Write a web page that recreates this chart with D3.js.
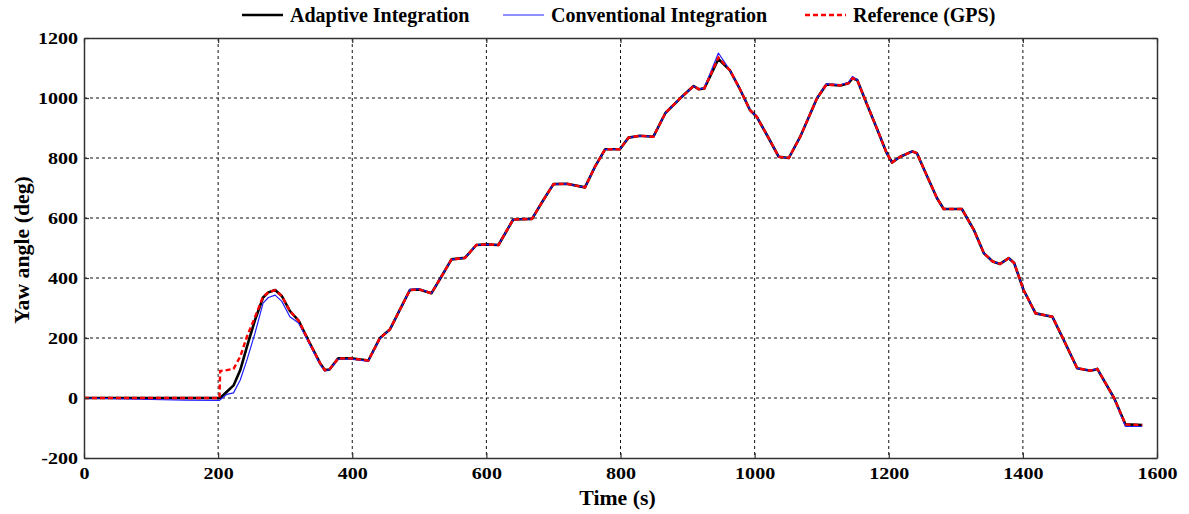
<!DOCTYPE html>
<html>
<head>
<meta charset="utf-8">
<script src="https://cdn.jsdelivr.net/npm/d3@7"></script>
<style>
  body { margin: 0; background: #fff; }
  svg { display: block; font-family: "Liberation Serif", "Times New Roman", serif; font-weight: bold; }
</style>
</head>
<body>
<svg width="1189" height="514"></svg>
<script>
const svgWidth = 1189;
const svgHeight = 514;
const margin = {top: 38, right: 32, bottom: 56, left: 84};
const width = svgWidth - margin.left - margin.right;
const height = svgHeight - margin.top - margin.bottom;

// time axis (s), shared by all three series
const timeS = [
  0, 100, 150, 202, 203, 213, 223, 233, 243, 255,
  267, 275, 285, 295, 307, 320, 335, 352, 359, 366,
  379, 398, 424, 441, 456, 476, 486, 500, 518, 533,
  548, 568, 585, 600, 618, 640, 668, 685, 700, 720,
  747, 762, 777, 799, 812, 829, 849, 867, 889, 909,
  917, 925, 946, 963, 978, 993, 1003, 1020, 1036, 1051,
  1068, 1093, 1107, 1128, 1140, 1146, 1153, 1167, 1182, 1197,
  1205, 1217, 1235, 1242, 1257, 1272, 1282, 1309, 1327, 1342,
  1355, 1366, 1379, 1387, 1401, 1419, 1444, 1461, 1481, 1501,
  1511, 1536, 1553, 1578
];

const reference = [
  0, 0, 0, 0, 90, 93, 97, 138, 205, 270,
  338, 352, 360, 340, 290, 258, 190, 116, 93, 95,
  132, 132, 125, 199, 228, 316, 360, 362, 349, 405,
  462, 467, 510, 512, 510, 595, 597, 660, 713, 714,
  702, 771, 829, 829, 868, 874, 871, 950, 999, 1040,
  1029, 1032, 1135, 1093, 1030, 960, 938, 870, 804, 800,
  871, 999, 1045, 1042, 1049, 1066, 1060, 982, 900, 816,
  785, 804, 822, 816, 740, 666, 630, 630, 560, 482,
  455, 447, 466, 450, 360, 282, 271, 193, 99, 91,
  97, 0, -88, -90
];

const adaptive = [
  0, 0, 0, 0, 0, 21, 42, 93, 171, 260,
  335, 352, 360, 340, 290, 258, 190, 116, 93, 95,
  132, 132, 125, 199, 228, 316, 360, 362, 349, 405,
  462, 467, 510, 512, 510, 595, 597, 660, 713, 714,
  702, 771, 829, 829, 868, 874, 871, 950, 999, 1040,
  1029, 1032, 1130, 1093, 1030, 960, 938, 870, 804, 800,
  871, 999, 1045, 1042, 1049, 1066, 1060, 982, 900, 816,
  785, 804, 822, 816, 740, 666, 630, 630, 560, 482,
  455, 447, 466, 450, 360, 282, 271, 193, 99, 91,
  97, 0, -88, -90
];

const conventional = [
  0, -5, -7, -8, -6, 12, 17, 60, 127, 216,
  316, 335, 343, 322, 271, 250, 185, 112, 90, 95,
  130, 130, 123, 198, 228, 316, 362, 364, 349, 405,
  462, 467, 510, 512, 510, 595, 597, 660, 713, 714,
  702, 771, 829, 829, 868, 874, 871, 950, 999, 1040,
  1029, 1034, 1150, 1093, 1030, 960, 938, 870, 804, 800,
  871, 999, 1047, 1044, 1052, 1072, 1060, 982, 900, 816,
  785, 804, 822, 816, 740, 666, 630, 630, 560, 482,
  455, 447, 466, 450, 360, 282, 271, 193, 99, 91,
  97, 0, -95, -95
];

const xTicks = [0, 200, 400, 600, 800, 1000, 1200, 1400, 1600];
const yTicks = [-200, 0, 200, 400, 600, 800, 1000, 1200];

const seriesNames = ["Adaptive Integration", "Conventional Integration", "Reference (GPS)"];

const svg = d3.select("svg");
const g = svg.append("g").attr("transform", `translate(${margin.left},${margin.top})`);

const x = d3.scaleLinear().domain([0, 1600]).range([0, width]);
const y = d3.scaleLinear().domain([-200, 1200]).range([height, 0]);

// dashed grid
g.append("g")
    .selectAll("line")
    .data(xTicks.slice(1, -1))
    .join("line")
    .attr("x1", (d) => x(d)).attr("x2", (d) => x(d))
    .attr("y1", 0).attr("y2", height)
    .attr("stroke", "#111").attr("stroke-dasharray", "3,3");

g.append("g")
    .selectAll("line")
    .data(yTicks.slice(1, -1))
    .join("line")
    .attr("y1", (d) => y(d)).attr("y2", (d) => y(d))
    .attr("x1", 0).attr("x2", width)
    .attr("stroke", "#111").attr("stroke-dasharray", "3,3");

// lines
const pts = (vals) => timeS.map((t, i) => ({t, v: vals[i]}));
const line = d3.line()
    .x((d) => x(d.t))
    .y((d) => y(d.v));

g.append("path").datum(pts(adaptive))
    .attr("fill", "none").attr("stroke", "#000").attr("stroke-width", 2.6)
    .attr("stroke-linejoin", "round").attr("d", line);

g.append("path").datum(pts(conventional))
    .attr("fill", "none").attr("stroke", "#1f1fff").attr("stroke-width", 1.2)
    .attr("stroke-linejoin", "round").attr("d", line);

g.append("path").datum(pts(reference))
    .attr("fill", "none").attr("stroke", "#ff0000").attr("stroke-width", 2.4)
    .attr("stroke-dasharray", "5,3").attr("d", line);

// axes with inward ticks on all four sides
const axisColor = "#333";
const fmt = (d) => String(d);
const styleAxis = (sel) => {
    sel.select(".domain").attr("stroke", axisColor).attr("stroke-width", 1.5);
    sel.selectAll(".tick line").attr("stroke", axisColor).attr("stroke-width", 1.2);
};
const styleLabels = (sel) => sel.selectAll("text")
    .attr("fill", "#000").style("font-size", "17px").style("font-family", "Liberation Serif").style("font-weight", "bold")
    .attr("transform", "scale(1.18,1)");

g.append("g")
    .attr("transform", `translate(0,${height})`)
    .call(d3.axisBottom(x).tickValues(xTicks).tickSizeInner(-5).tickSizeOuter(0).tickPadding(9).tickFormat(fmt))
    .call(styleAxis)
    .call(styleLabels);

g.append("g")
    .call(d3.axisLeft(y).tickValues(yTicks).tickSizeInner(-5).tickSizeOuter(0).tickPadding(5).tickFormat(fmt))
    .call(styleAxis)
    .call(styleLabels);

g.append("g")
    .call(d3.axisTop(x).tickValues(xTicks).tickSizeInner(-5).tickSizeOuter(0).tickFormat(""))
    .call(styleAxis);

g.append("g")
    .attr("transform", `translate(${width},0)`)
    .call(d3.axisRight(y).tickValues(yTicks).tickSizeInner(-5).tickSizeOuter(0).tickFormat(""))
    .call(styleAxis);

// axis titles
svg.append("text")
    .attr("transform", `translate(${margin.left + width / 2 - 3},505) scale(1.09,1)`)
    .attr("text-anchor", "middle")
    .style("font-size", "20px")
    .text("Time (s)");

svg.append("text")
    .attr("transform", `translate(29,250) rotate(-90) scale(1.09,1)`)
    .attr("text-anchor", "middle")
    .style("font-size", "20px")
    .text("Yaw angle (deg)");

// legend
const legendX = [242, 503, 805];
const legendStroke = ["#000", "#1f1fff", "#ff0000"];
const legendWidth = [2.6, 1.2, 2.4];
const legendDash = [null, null, "5,3"];

const lg = svg.append("g").selectAll("g")
    .data(seriesNames)
    .join("g")
    .attr("transform", (d, i) => `translate(${legendX[i]},15)`);

lg.append("line")
    .attr("x1", 0).attr("x2", 41).attr("y1", 0).attr("y2", 0)
    .attr("stroke", (d, i) => legendStroke[i])
    .attr("stroke-width", (d, i) => legendWidth[i])
    .attr("stroke-dasharray", (d, i) => legendDash[i]);

lg.append("text")
    .attr("x", 48).attr("y", 7)
    .style("font-size", "20px")
    .text((d) => d);
</script>
</body>
</html>
